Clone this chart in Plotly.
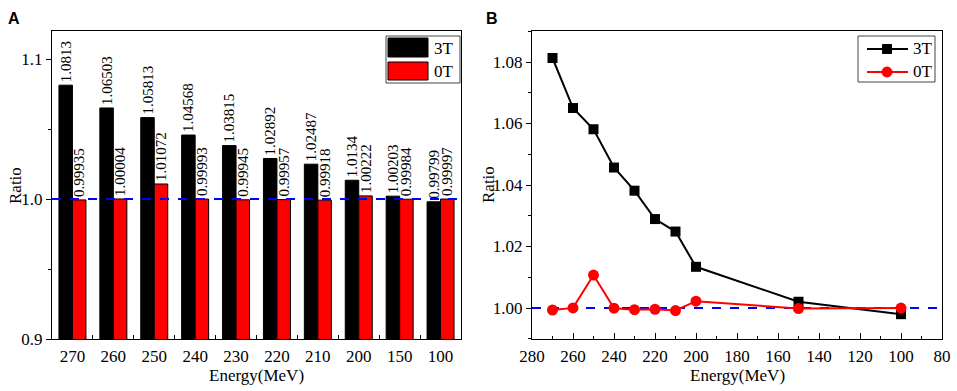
import plotly.graph_objects as go

energy = [270, 260, 250, 240, 230, 220, 210, 200, 150, 100]
energy_labels = ["270", "260", "250", "240", "230", "220", "210", "200", "150", "100"]
ratio_3t = [1.0813, 1.06503, 1.05813, 1.04568, 1.03815, 1.02892, 1.02487, 1.0134, 1.00203, 0.99799]
ratio_0t = [0.99935, 1.00004, 1.01072, 0.99993, 0.99945, 0.99957, 0.99918, 1.00222, 0.99984, 0.99997]
text_3t = ["1.0813", "1.06503", "1.05813", "1.04568", "1.03815", "1.02892", "1.02487", "1.0134", "1.00203", "0.99799"]
text_0t = ["0.99935", "1.00004", "1.01072", "0.99993", "0.99945", "0.99957", "0.99918", "1.00222", "0.99984", "0.99997"]

W, H = 957, 391
SERIF = "Liberation Serif, Times New Roman, serif"

def px_x(v):
    return v / W

def px_y(v):
    return 1 - v / H

fig = go.Figure()

# Panel A bars
fig.add_trace(go.Bar(x=energy_labels, y=ratio_3t, name="3T", marker=dict(color="black", line=dict(color="black", width=1)),
                     text=text_3t, textposition="outside", textangle=-90, constraintext="none",
                     textfont=dict(family=SERIF, size=15, color="black"), xaxis="x", yaxis="y", showlegend=False))
fig.add_trace(go.Bar(x=energy_labels, y=ratio_0t, name="0T", marker=dict(color="#ff0000", line=dict(color="black", width=1)),
                     text=text_0t, textposition="outside", textangle=-90, constraintext="none",
                     textfont=dict(family=SERIF, size=15, color="black"), xaxis="x", yaxis="y", showlegend=False))

# Panel B lines
fig.add_trace(go.Scatter(x=energy, y=ratio_3t, mode="lines+markers", name="3T",
                         line=dict(color="black", width=2), marker=dict(symbol="square", size=10, color="black"),
                         xaxis="x2", yaxis="y2", showlegend=False))
fig.add_trace(go.Scatter(x=energy, y=ratio_0t, mode="lines+markers", name="0T",
                         line=dict(color="#ff0000", width=2), marker=dict(symbol="circle", size=11, color="#ff0000"),
                         xaxis="x2", yaxis="y2", showlegend=False))

axis_common = dict(showline=True, linecolor="black", linewidth=1, mirror=True, showgrid=False, zeroline=False,
                   automargin=False,
                   tickfont=dict(family=SERIF, size=17, color="black"), tickcolor="black")

fig.update_layout(
    template="none",
    width=W, height=H, margin=dict(l=0, r=0, t=0, b=0, autoexpand=False),
    plot_bgcolor="white", paper_bgcolor="white",
    barmode="group", bargap=0.34, bargroupgap=0,
    xaxis=dict(domain=[px_x(52), px_x(461)], type="category", anchor="y", ticks="inside", ticklen=4,
               tickson="boundaries", ticklabelstandoff=2, **axis_common),
    yaxis=dict(domain=[px_y(339), px_y(31)], range=[0.9, 1.12], anchor="x", tickvals=[0.9, 1.0, 1.1],
               ticktext=["0.9", "1.0", "1.1"], ticks="outside", ticklen=5,
               minor=dict(tickvals=[0.95, 1.05], ticks="outside", ticklen=3, tickcolor="black"), **axis_common),
    xaxis2=dict(domain=[px_x(532), px_x(942)], range=[280, 80], anchor="y2", dtick=20, ticks="inside", ticklen=6,
                ticklabelstandoff=2,
                minor=dict(dtick=10, ticks="inside", ticklen=3, tickcolor="black"), **axis_common),
    yaxis2=dict(domain=[px_y(339), px_y(31)], range=[0.98992, 1.09008], anchor="x2", dtick=0.02, tickformat=".2f",
                ticks="outside", ticklen=5,
                minor=dict(dtick=0.01, ticks="outside", ticklen=3, tickcolor="black"), **axis_common),
)

shapes = []
# Reference lines at ratio 1.0
shapes.append(dict(type="line", xref="x domain", yref="y", x0=0, x1=1, y0=1.0, y1=1.0,
                   line=dict(color="#0000ff", width=2, dash="dash"), layer="above"))
shapes.append(dict(type="line", xref="x2 domain", yref="y2", x0=0, x1=1, y0=1.0, y1=1.0,
                   line=dict(color="#0000ff", width=2, dash="dash"), layer="below"))

# Legend A (manual)
shapes.append(dict(type="rect", xref="paper", yref="paper", x0=px_x(386), x1=px_x(460), y0=px_y(83), y1=px_y(36),
                   line=dict(color="#444444", width=1), fillcolor="white"))
shapes.append(dict(type="rect", xref="paper", yref="paper", x0=px_x(388), x1=px_x(428), y0=px_y(57), y1=px_y(38),
                   line=dict(color="black", width=1), fillcolor="black"))
shapes.append(dict(type="rect", xref="paper", yref="paper", x0=px_x(388), x1=px_x(428), y0=px_y(80), y1=px_y(62),
                   line=dict(color="black", width=1), fillcolor="#ff0000"))

# Legend B (manual)
shapes.append(dict(type="rect", xref="paper", yref="paper", x0=px_x(858), x1=px_x(935), y0=px_y(82), y1=px_y(36),
                   line=dict(color="#444444", width=1), fillcolor="white"))
shapes.append(dict(type="line", xref="paper", yref="paper", x0=px_x(867), x1=px_x(908), y0=px_y(49), y1=px_y(49),
                   line=dict(color="black", width=2)))
shapes.append(dict(type="rect", xref="paper", yref="paper", x0=px_x(882.5), x1=px_x(891.5), y0=px_y(53.5), y1=px_y(44.5),
                   line=dict(color="black", width=1), fillcolor="black"))
shapes.append(dict(type="line", xref="paper", yref="paper", x0=px_x(867), x1=px_x(908), y0=px_y(72), y1=px_y(72),
                   line=dict(color="#ff0000", width=2)))
shapes.append(dict(type="circle", xref="paper", yref="paper", x0=px_x(882), x1=px_x(892), y0=px_y(77), y1=px_y(67),
                   line=dict(color="#ff0000", width=1), fillcolor="#ff0000"))

fig.update_layout(shapes=shapes)

ann_font = dict(family=SERIF, size=17, color="black")

def ann(text, x, y, xanchor="center", yanchor="middle", angle=0, font=ann_font):
    return dict(text=text, x=px_x(x), y=px_y(y), xref="paper", yref="paper", xanchor=xanchor, yanchor=yanchor,
                textangle=angle, showarrow=False, font=font)

panel_font = dict(family="Liberation Sans, Arial, sans-serif", size=16, color="black")
annotations = [
    ann("3T", 432, 48, xanchor="left"),
    ann("0T", 432, 71, xanchor="left"),
    ann("3T", 911, 48, xanchor="left"),
    ann("0T", 911, 71, xanchor="left"),
    ann("Ratio", 15, 185, angle=-90),
    ann("Ratio", 488, 185, angle=-90),
    ann("Energy(MeV)", 256, 375),
    ann("Energy(MeV)", 737, 375),
    ann("<b>A</b>", 6, 18, xanchor="left"),
    ann("<b>B</b>", 484, 18, xanchor="left", font=panel_font),
]
annotations[8]["font"] = panel_font
fig.update_layout(annotations=annotations)

fig.write_html("out.html", config={"displayModeBar": False},
               post_script="document.body.style.margin='0';document.body.style.padding='0';")
